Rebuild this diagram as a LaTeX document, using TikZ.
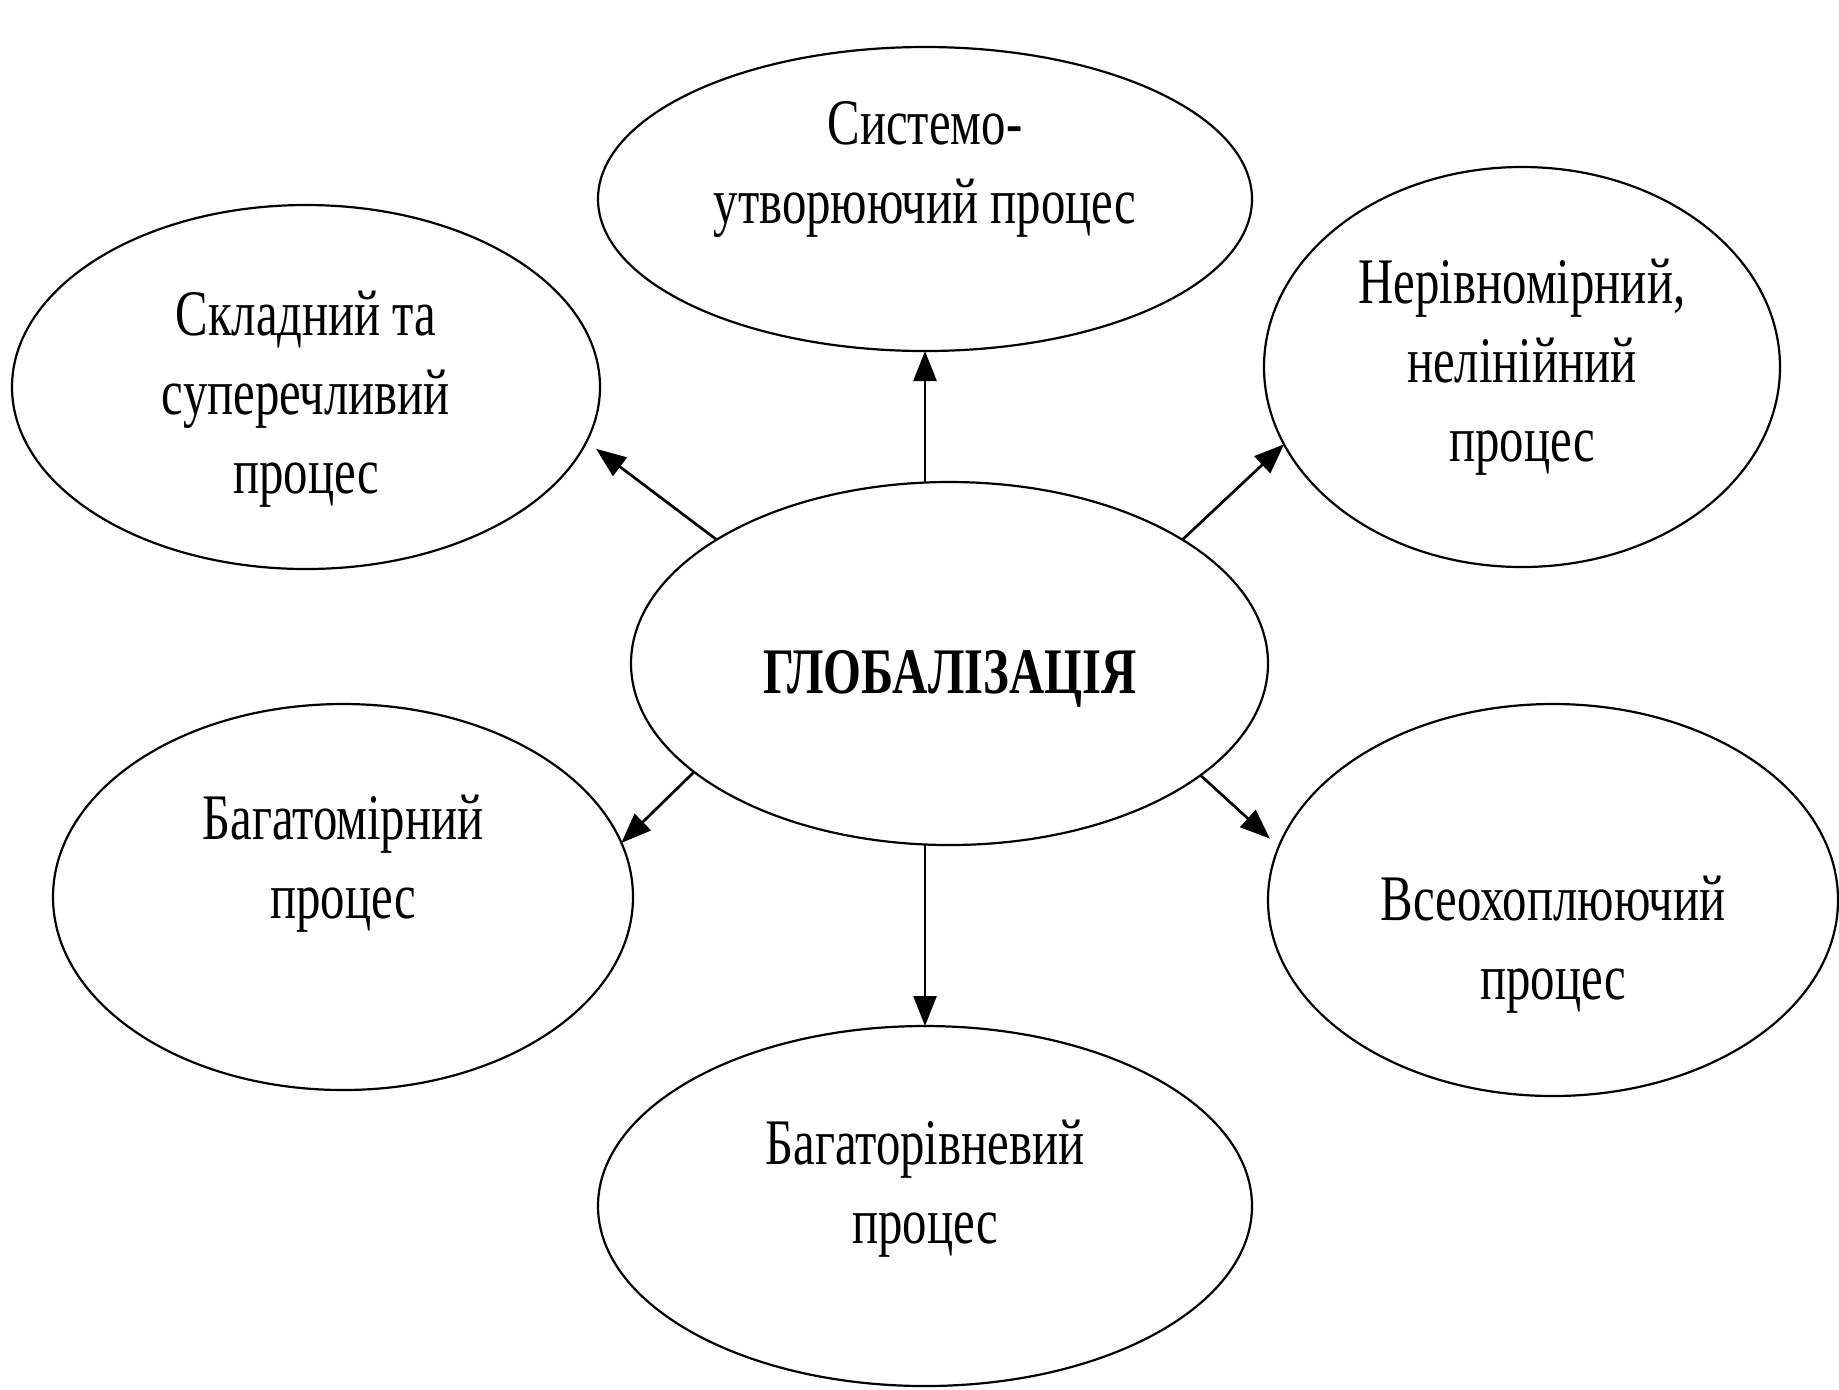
\documentclass[tikz,border=0pt]{standalone}
\usepackage{fontspec}
\setmainfont[FakeStretch=0.75]{Liberation Serif}
\usetikzlibrary{arrows.meta,shapes.geometric}
\tikzset{
  ell/.style={draw, ellipse, line width=1.1pt, inner sep=0pt, outer sep=0pt},
  txt/.style={align=center, inner sep=0pt, anchor=base, font=\fontsize{32.5}{39.5}\selectfont},
  arr/.style={-{Triangle[length=15pt,width=11.5pt]}, line width=1.35pt}
}
\begin{document}
\begin{tikzpicture}[x=0.5pt,y=-0.5pt]
\path[use as bounding box, fill=white] (0,0) rectangle (1839,1389);
% ellipses
\node[ell, minimum width=327pt, minimum height=152pt] (top) at (925,199) {};
\node[ell, minimum width=294pt, minimum height=182pt] (tl) at (306,387) {};
\node[ell, minimum width=258pt, minimum height=200pt] (tr) at (1522,367) {};
\node[ell, minimum width=318.5pt, minimum height=181.5pt] (c) at (949.5,663.5) {};
\node[ell, minimum width=290pt, minimum height=193pt] (bl) at (343,897) {};
\node[ell, minimum width=285pt, minimum height=196pt] (br) at (1553,900) {};
\node[ell, minimum width=327pt, minimum height=180pt] (bot) at (925,1206) {};
% texts
\node[txt] (ttop) at (925,223) {Системо-\\утворюючий процес};
\node[txt] (ttl) at (306,493) {Складний та\\суперечливий\\процес};
\node[txt] (ttr) at (1522,461) {Нерівномірний,\\нелінійний\\процес};
\node[txt, font=\fontsize{32.5}{39.5}\selectfont\bfseries] (tc) at (950,693) {ГЛОБАЛІЗАЦІЯ};
\node[txt] (tbl) at (343,918) {Багатомірний\\процес};
\node[txt] (tbr) at (1553,999) {Всеохоплюючий\\процес};
\node[txt] (tbot) at (925,1243) {Багаторівневий\\процес};
% connectors
\draw[arr] (top.south |- c.north) -- (top.south);
\draw[arr] (c.south -| bot.north) -- (bot.north);
\draw[arr, shorten >=6pt] (c.152) -- (tl.-11);
\draw[arr] (c.28) -- (tr.198);
\draw[arr] (c.203) -- (bl.11);
\draw[arr, shorten >=6pt] (c.336) -- (br.169);
\end{tikzpicture}
\end{document}
